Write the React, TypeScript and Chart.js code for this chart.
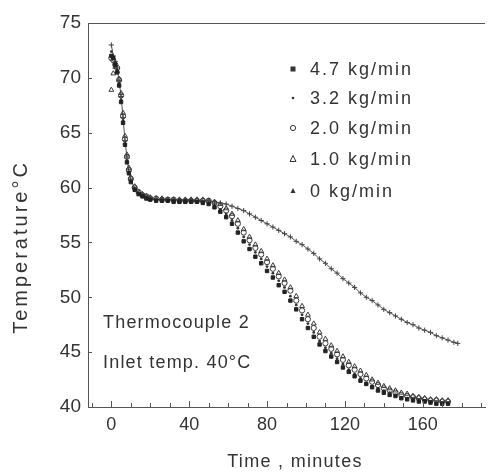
import React, { useEffect, useRef } from 'react';
import { Chart, registerables } from 'chart.js';

Chart.register(...registerables);

// ---------- data ----------
const TIME_MAIN = [0, 1, 2, 3, 4, 5, 6, 7, 8, 9, 10, 12, 14, 16, 18, 20, 23, 26, 29, 32, 35, 38, 41, 44, 47, 50, 53, 56, 59, 62, 65, 68, 71, 74, 77, 80, 83, 86, 89, 92, 95, 98, 101, 104, 107, 110, 113, 116, 119, 122, 125, 128, 131, 134, 137, 140, 143, 146, 149, 152, 155, 158, 161, 164, 167, 170, 173];
const TIME_ZERO = [0, 1, 2, 3, 4, 5, 6, 7, 8, 9, 10, 12, 14, 16, 18, 20, 23, 26, 29, 32, 35, 38, 41, 44, 47, 50, 53, 56, 59, 62, 65, 68, 71, 74, 77, 80, 83, 86, 89, 92, 95, 98, 101, 104, 107, 110, 113, 116, 119, 122, 125, 128, 131, 134, 137, 140, 143, 146, 149, 152, 155, 158, 161, 164, 167, 170, 173, 176, 178];

const FLOW_47 = [72.0, 71.8, 71.2, 70.5, 69.3, 67.8, 65.9, 63.9, 62.3, 61.3, 60.5, 59.8, 59.4, 59.2, 59.0, 58.9, 58.8, 58.8, 58.8, 58.7, 58.7, 58.7, 58.7, 58.7, 58.6, 58.5, 58.2, 57.8, 57.3, 56.7, 55.9, 55.1, 54.4, 53.7, 53.1, 52.4, 51.8, 51.1, 50.5, 49.7, 48.9, 48.0, 47.2, 46.4, 45.7, 45.1, 44.6, 44.1, 43.6, 43.2, 42.8, 42.4, 42.1, 41.8, 41.5, 41.3, 41.1, 41.0, 40.8, 40.7, 40.6, 40.5, 40.5, 40.4, 40.3, 40.3, 40.3];
const FLOW_32 = [72.4, 71.9, 71.4, 70.7, 69.5, 68.0, 66.1, 64.0, 62.4, 61.4, 60.6, 59.9, 59.5, 59.3, 59.1, 59.0, 58.9, 58.9, 58.8, 58.8, 58.8, 58.8, 58.7, 58.7, 58.7, 58.6, 58.4, 58.0, 57.6, 57.0, 56.3, 55.5, 54.8, 54.1, 53.5, 52.8, 52.2, 51.5, 50.9, 50.1, 49.3, 48.4, 47.6, 46.8, 46.0, 45.4, 44.9, 44.4, 43.9, 43.4, 43.0, 42.6, 42.2, 41.9, 41.7, 41.5, 41.3, 41.1, 40.9, 40.8, 40.7, 40.6, 40.5, 40.5, 40.4, 40.4, 40.3];
const FLOW_20 = [71.8, 71.6, 71.2, 70.9, 69.8, 68.4, 66.5, 64.4, 62.8, 61.6, 60.8, 60.0, 59.6, 59.3, 59.2, 59.0, 59.0, 58.9, 58.9, 58.9, 58.8, 58.8, 58.8, 58.8, 58.8, 58.8, 58.6, 58.3, 57.9, 57.4, 56.7, 55.9, 55.2, 54.5, 53.9, 53.2, 52.6, 51.9, 51.3, 50.6, 49.7, 48.8, 48.0, 47.2, 46.4, 45.8, 45.3, 44.8, 44.3, 43.8, 43.4, 43.0, 42.6, 42.3, 42.0, 41.7, 41.5, 41.3, 41.1, 41.0, 40.9, 40.8, 40.7, 40.6, 40.6, 40.5, 40.5];
const FLOW_10 = [68.9, 70.4, 71.0, 70.6, 69.9, 68.6, 66.8, 64.7, 63.0, 61.8, 60.9, 60.1, 59.6, 59.4, 59.2, 59.1, 59.0, 59.0, 58.9, 58.9, 58.9, 58.9, 58.9, 58.9, 58.9, 58.8, 58.7, 58.5, 58.1, 57.6, 57.0, 56.2, 55.5, 54.8, 54.2, 53.5, 52.9, 52.2, 51.6, 50.9, 50.1, 49.2, 48.4, 47.6, 46.8, 46.2, 45.6, 45.1, 44.6, 44.1, 43.7, 43.3, 42.9, 42.5, 42.2, 41.9, 41.7, 41.5, 41.3, 41.2, 41.0, 40.9, 40.8, 40.7, 40.7, 40.6, 40.6];
const FLOW_0 = [73.0, 72.0, 71.5, 70.9, 69.7, 68.3, 66.4, 64.3, 62.7, 61.5, 60.7, 59.9, 59.5, 59.3, 59.1, 59.0, 58.9, 58.9, 58.9, 58.9, 58.9, 58.9, 58.9, 58.8, 58.8, 58.8, 58.7, 58.6, 58.5, 58.3, 58.1, 57.9, 57.6, 57.3, 57.0, 56.7, 56.4, 56.1, 55.8, 55.5, 55.1, 54.8, 54.4, 54.0, 53.5, 53.1, 52.6, 52.2, 51.7, 51.3, 50.9, 50.4, 50.0, 49.7, 49.3, 48.9, 48.6, 48.3, 48.0, 47.7, 47.5, 47.2, 47.0, 46.8, 46.5, 46.3, 46.1, 45.9, 45.8];

const SERIES_LABELS = ['4.7 kg/min', '3.2 kg/min', '2.0 kg/min', '1.0 kg/min', '0 kg/min'];
const X_TICKS = [0, 40, 80, 120, 160];
const X_MINOR_TICKS = [-10, 0, 10, 20, 30, 40, 50, 60, 70, 80, 90, 100, 110, 120, 130, 140, 150, 160, 170, 180, 190];
const Y_TICKS = [40, 45, 50, 55, 60, 65, 70, 75];
const X_TITLE = 'Time , minutes';
const Y_TITLE = 'Temperature°C';
const NOTE_LINES = ['Thermocouple 2', 'Inlet temp. 40°C'];

const FONT = '"Liberation Sans", Arial, Helvetica, sans-serif';
const INK = '#333';

const pts = (ts: number[], ys: number[]) => ts.map((t, i) => ({ x: t, y: ys[i] }));

function drawMarker(ctx: CanvasRenderingContext2D, kind: number, x: number, y: number) {
  ctx.save();
  ctx.strokeStyle = INK;
  ctx.fillStyle = INK;
  ctx.lineWidth = 1;
  if (kind === 0) {
    ctx.fillRect(x - 2.5, y - 2.5, 5, 5);
  } else if (kind === 1) {
    ctx.beginPath();
    ctx.arc(x, y, 1.3, 0, Math.PI * 2);
    ctx.fill();
  } else if (kind === 2) {
    ctx.beginPath();
    ctx.arc(x, y, 2.6, 0, Math.PI * 2);
    ctx.stroke();
  } else if (kind === 3) {
    ctx.beginPath();
    ctx.moveTo(x, y - 3.5);
    ctx.lineTo(x + 3, y + 2.5);
    ctx.lineTo(x - 3, y + 2.5);
    ctx.closePath();
    ctx.stroke();
  } else {
    ctx.beginPath();
    ctx.moveTo(x, y - 3);
    ctx.lineTo(x + 2.5, y + 2);
    ctx.lineTo(x - 2.5, y + 2);
    ctx.closePath();
    ctx.fill();
  }
  ctx.restore();
}

const decorPlugin = {
  id: 'decor',
  afterDraw(chart: any) {
    const ctx: CanvasRenderingContext2D = chart.ctx;
    const { left, right, top, bottom } = chart.chartArea;
    const xs = chart.scales.x;
    const ys = chart.scales.y;
    ctx.save();
    // top frame line
    ctx.strokeStyle = '#555';
    ctx.lineWidth = 1;
    ctx.beginPath();
    ctx.moveTo(left, top + 0.5);
    ctx.lineTo(right, top + 0.5);
    ctx.stroke();
    // x ticks (inward)
    X_MINOR_TICKS.forEach((v) => {
      const px = Math.round(xs.getPixelForValue(v)) + 0.5;
      if (px < left || px > right) return;
      const len = X_TICKS.includes(v) ? 6 : 4;
      ctx.beginPath();
      ctx.moveTo(px, bottom);
      ctx.lineTo(px, bottom - len);
      ctx.stroke();
    });
    // y ticks (inward)
    Y_TICKS.forEach((v) => {
      const py = Math.round(ys.getPixelForValue(v)) + 0.5;
      ctx.beginPath();
      ctx.moveTo(left, py);
      ctx.lineTo(left + 4, py);
      ctx.stroke();
    });

    ctx.fillStyle = INK;
    // legend
    const legendY = [69, 98, 128, 159, 191];
    ctx.font = `18px ${FONT}`;
    (ctx as any).letterSpacing = '2px';
    ctx.textAlign = 'left';
    ctx.textBaseline = 'middle';
    SERIES_LABELS.forEach((lab, i) => {
      drawMarker(ctx, i, 293, legendY[i]);
      ctx.fillStyle = INK;
      ctx.fillText(lab, 310, legendY[i] + 1);
    });
    // notes
    (ctx as any).letterSpacing = '1.2px';
    ctx.textBaseline = 'alphabetic';
    ctx.fillText(NOTE_LINES[0], 103, 328);
    ctx.fillText(NOTE_LINES[1], 103, 368);
    // x title
    (ctx as any).letterSpacing = '1.3px';
    ctx.textAlign = 'center';
    ctx.textBaseline = 'middle';
    ctx.fillText(X_TITLE, 295, 462);
    // y title
    ctx.save();
    ctx.translate(21, 247);
    ctx.rotate(-Math.PI / 2);
    ctx.font = `20px ${FONT}`;
    (ctx as any).letterSpacing = '3px';
    ctx.fillText(Y_TITLE, 0, 0);
    ctx.restore();
    (ctx as any).letterSpacing = '0px';
    ctx.restore();
  },
};

export default function App() {
  const ref = useRef<HTMLCanvasElement | null>(null);

  useEffect(() => {
    if (!ref.current) return;
    const chart = new Chart(ref.current, {
      type: 'scatter',
      data: {
        datasets: [
          {
            label: SERIES_LABELS[0],
            data: pts(TIME_MAIN, FLOW_47),
            pointStyle: 'rect',
            pointRadius: 2.4,
            backgroundColor: '#222',
            borderColor: '#222',
            borderWidth: 1,
            showLine: false,
          },
          {
            label: SERIES_LABELS[1],
            data: pts(TIME_MAIN, FLOW_32),
            pointStyle: 'circle',
            pointRadius: 1.4,
            backgroundColor: '#333',
            borderColor: '#333',
            borderWidth: 0,
            showLine: false,
          },
          {
            label: SERIES_LABELS[2],
            data: pts(TIME_MAIN, FLOW_20),
            pointStyle: 'circle',
            pointRadius: 2.6,
            backgroundColor: 'rgba(255,255,255,0)',
            borderColor: '#3a3a3a',
            borderWidth: 1,
            showLine: false,
          },
          {
            label: SERIES_LABELS[3],
            data: pts(TIME_MAIN, FLOW_10),
            pointStyle: 'triangle',
            pointRadius: 2.8,
            backgroundColor: 'rgba(255,255,255,0)',
            borderColor: '#3a3a3a',
            borderWidth: 1,
            showLine: false,
          },
          {
            label: SERIES_LABELS[4],
            data: pts(TIME_ZERO, FLOW_0),
            pointStyle: 'cross',
            pointRadius: 2.6,
            pointBorderWidth: 1,
            pointBorderColor: '#444',
            borderColor: '#555',
            borderWidth: 1,
            showLine: true,
            tension: 0,
          },
        ],
      },
      options: {
        responsive: false,
        animation: false,
        events: [],
        layout: { padding: { top: 23, right: 0, left: 0, bottom: 0 } },
        plugins: { legend: { display: false }, tooltip: { enabled: false } },
        scales: {
          x: {
            type: 'linear',
            min: -12,
            max: 192,
            afterBuildTicks: (axis: any) => {
              axis.ticks = X_TICKS.map((v) => ({ value: v }));
            },
            afterFit: (axis: any) => {
              axis.height = 66;
            },
            grid: { display: false, drawTicks: false },
            border: { display: true, color: '#555', width: 1 },
            ticks: {
              font: { family: FONT, size: 18 },
              color: INK,
              padding: 7,
              maxRotation: 0,
              autoSkip: false,
            },
          },
          y: {
            type: 'linear',
            min: 40,
            max: 75,
            afterBuildTicks: (axis: any) => {
              axis.ticks = Y_TICKS.map((v) => ({ value: v }));
            },
            afterFit: (axis: any) => {
              axis.width = 88;
            },
            grid: { display: false, drawTicks: false },
            border: { display: true, color: '#555', width: 1 },
            ticks: {
              font: { family: FONT, size: 19 },
              color: INK,
              padding: 7,
              autoSkip: false,
            },
          },
        },
      } as any,
      plugins: [decorPlugin],
    });
    return () => chart.destroy();
  }, []);

  return (
    <div style={{ position: 'absolute', left: 0, top: 0, width: 490, height: 473, background: '#fff' }}>
      <canvas ref={ref} width={490} height={473} style={{ display: 'block' }} />
    </div>
  );
}
